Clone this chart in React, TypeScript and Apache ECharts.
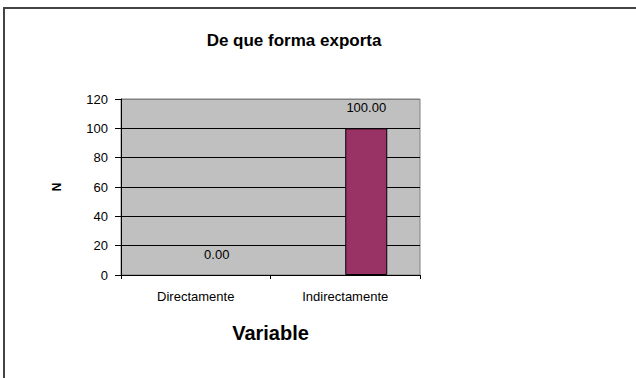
import React, { useEffect, useRef } from "react";
import * as echarts from "echarts";

const title = "De que forma exporta";
const categories = ["Directamente", "Indirectamente"];
const values = [0, 100];
const yTicks = { min: 0, max: 120, interval: 20 };
const yName = "N";
const xName = "Variable";

export default function App() {
  const ref = useRef<HTMLDivElement>(null);
  useEffect(() => {
    const chart = echarts.init(ref.current!, null, { renderer: "svg" });
    const font = "'Liberation Sans', Arial, sans-serif";
    chart.setOption({
      animation: false,
      backgroundColor: "#ffffff",
      title: {
        text: title,
        left: 289,
        top: 27,
        textAlign: "center",
        textStyle: { fontFamily: font, fontSize: 17, fontWeight: "bold", color: "#000" },
      },
      graphic: [
        {
          type: "rect",
          shape: { x: 4, y: 8, width: 700, height: 420 },
          style: { fill: "none", stroke: "#444", lineWidth: 2 },
          silent: true,
        },
      ],
      grid: {
        left: 121,
        top: 99,
        right: 216,
        bottom: 103,
        show: true,
        backgroundColor: "#C0C0C0",
        borderColor: "#808080",
        borderWidth: 1,
      },
      xAxis: {
        type: "category",
        data: categories,
        name: xName,
        nameLocation: "middle",
        nameGap: 48,
        nameTextStyle: { fontFamily: font, fontSize: 20, fontWeight: "bold", color: "#000" },
        axisLine: { show: true, lineStyle: { color: "#000", width: 1 } },
        axisTick: { show: true, length: 4, lineStyle: { color: "#000" } },
        axisLabel: { fontFamily: font, fontSize: 13, color: "#000", margin: 15 },
      },
      yAxis: {
        type: "value",
        min: yTicks.min,
        max: yTicks.max,
        interval: yTicks.interval,
        name: yName,
        nameLocation: "middle",
        nameGap: 58,
        nameTextStyle: { fontFamily: font, fontSize: 12, fontWeight: "bold", color: "#000" },
        axisLine: { show: true, lineStyle: { color: "#000", width: 1 } },
        axisTick: { show: true, length: 6, lineStyle: { color: "#000" } },
        axisLabel: { fontFamily: font, fontSize: 13, color: "#000", margin: 13 },
        splitLine: {
          show: true,
          lineStyle: {
            color: ["#000", "#000", "#000", "#000", "#000", "#000", "#808080"],
            width: 1,
          },
        },
      },
      series: [
        {
          type: "bar",
          data: categories.map(() => null),
          barWidth: 42,
          barGap: "0%",
        },
        {
          type: "bar",
          data: values.map((v) => (v === 0 ? { value: v, itemStyle: { borderWidth: 0 } } : v)),
          barWidth: 42,
          barGap: "0%",
          itemStyle: { color: "#993366", borderColor: "#000", borderWidth: 1 },
          label: {
            show: true,
            position: "top",
            distance: 14,
            formatter: (p: any) => Number(p.value).toFixed(2),
            fontFamily: font,
            fontSize: 13,
            color: "#000",
          },
        },
      ],
    });
    return () => chart.dispose();
  }, []);
  return (
    <div
      ref={ref}
      style={{ position: "fixed", left: 0, top: 0, width: 636, height: 378 }}
    />
  );
}
